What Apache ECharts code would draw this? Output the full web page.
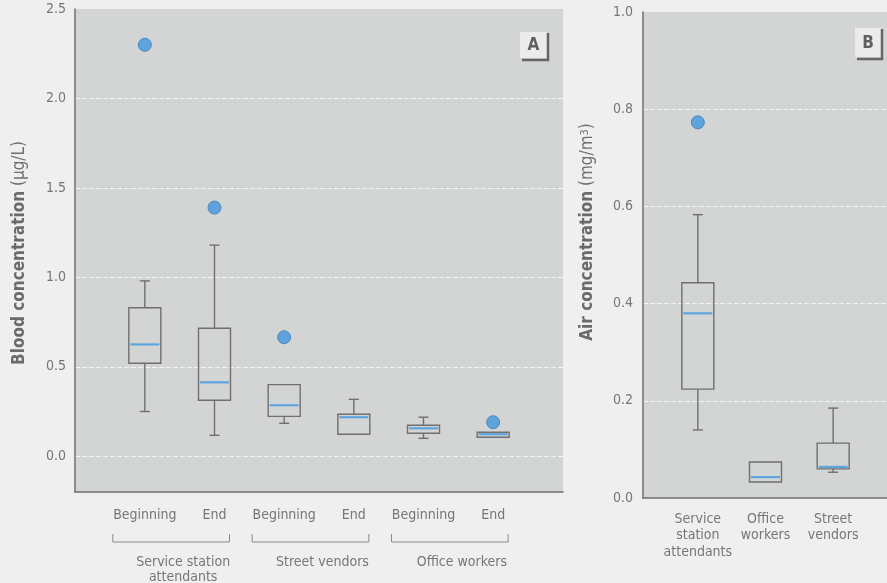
<!DOCTYPE html>
<html><head><meta charset="utf-8">
<script src="https://cdn.jsdelivr.net/npm/echarts@6/dist/echarts.min.js"></script>
<style>html,body{margin:0;padding:0;background:#efefef}#c{width:887px;height:583px}</style>
</head><body><div id="c"></div>
<script>
const FONT = '"Liberation Sans Narrow","DejaVu Sans Condensed",sans-serif';

// Panel A: blood concentration (µg/L)
const bloodGroups = ['Service station\nattendants', 'Street vendors', 'Office workers'];
const bloodCategories = ['SSA|Beginning', 'SSA|End', 'SV|Beginning', 'SV|End', 'OW|Beginning', 'OW|End'];
const bloodLow    = [0.25, 0.117, 0.184, 0.123, 0.100, 0.106];
const bloodQ1     = [0.52, 0.313, 0.223, 0.123, 0.128, 0.106];
const bloodMedian = [0.625, 0.413, 0.285, 0.218, 0.156, 0.123];
const bloodQ3     = [0.83, 0.715, 0.400, 0.235, 0.173, 0.134];
const bloodHigh   = [0.98, 1.18, 0.400, 0.318, 0.218, 0.134];
const bloodOutliers = [[0, 2.30], [1, 1.39], [2, 0.665], [5, 0.19]];
const bloodTickLabels = [0, 0.5, 1.0, 1.5, 2.0, 2.5];
const bloodGridLines = [0, 0.5, 1.0, 1.5, 2.0];

// Panel B: air concentration (mg/m3)
const airCategories = ['Service\nstation\nattendants', 'Office\nworkers', 'Street\nvendors'];
const airLow    = [0.14, 0.033, 0.053];
const airQ1     = [0.224, 0.033, 0.060];
const airMedian = [0.38, 0.043, 0.064];
const airQ3     = [0.443, 0.074, 0.113];
const airHigh   = [0.583, 0.074, 0.185];
const airOutliers = [[0, 0.773]];
const airTickLabels = [0, 0.2, 0.4, 0.6, 0.8, 1.0];
const airGridLines = [0.2, 0.4, 0.6, 0.8];

const GRAY = '#6f6f6f';
const TXT = '#767676';

function boxItem(params, api) {
  const i = api.value(0);
  const p = k => api.coord([i, api.value(k)]);
  const lo = p(1), q1 = p(2), md = p(3), q3 = p(4), hi = p(5);
  const cx = lo[0], half = 16, cap = 5;
  const st = {stroke: GRAY, lineWidth: 1.4, fill: 'none'};
  const ch = [];
  if (q3[1] - hi[1] > 0.5) {
    ch.push({type: 'line', shape: {x1: cx, y1: q3[1], x2: cx, y2: hi[1]}, style: st});
    ch.push({type: 'line', shape: {x1: cx - cap, y1: hi[1], x2: cx + cap, y2: hi[1]}, style: st});
  }
  if (lo[1] - q1[1] > 0.5) {
    ch.push({type: 'line', shape: {x1: cx, y1: q1[1], x2: cx, y2: lo[1]}, style: st});
    ch.push({type: 'line', shape: {x1: cx - cap, y1: lo[1], x2: cx + cap, y2: lo[1]}, style: st});
  }
  ch.push({type: 'rect', shape: {x: cx - half, y: q3[1], width: 2 * half, height: q1[1] - q3[1]}, style: st});
  ch.push({type: 'line', shape: {x1: cx - half + 1.5, y1: md[1], x2: cx + half - 1.5, y2: md[1]},
           style: {stroke: '#5ea4dc', lineWidth: 2.2}});
  return {type: 'group', children: ch};
}

const bloodBoxData = bloodCategories.map((c, i) => [i, bloodLow[i], bloodQ1[i], bloodMedian[i], bloodQ3[i], bloodHigh[i]]);
const airBoxData = airCategories.map((c, i) => [i, airLow[i], airQ1[i], airMedian[i], airQ3[i], airHigh[i]]);

const chart = echarts.init(document.getElementById('c'), null, {renderer: 'canvas'});

const hiddenY = (min, max) => ({type: 'value', min, max, show: false, splitLine: {show: false}});
const gridLineStyle = {color: 'rgba(255,255,255,0.75)', width: 1, type: [5, 2]};

const option = {
  backgroundColor: '#efefef',
  animation: false,
  textStyle: {fontFamily: FONT},
  grid: [
    {left: 75, width: 488, top: 9, bottom: 91, show: true, backgroundColor: '#d3d5d5', borderWidth: 0},
    {left: 110, width: 418, top: 9, bottom: 91},
    {left: 643, right: 0, top: 12, bottom: 85, show: true, backgroundColor: '#d3d5d5', borderWidth: 0},
    {left: 664, width: 203, top: 12, bottom: 85}
  ],
  xAxis: [
    {gridIndex: 0, type: 'value', min: 0, max: 1,
     axisLine: {show: true, onZero: false, lineStyle: {color: GRAY, width: 1.5}},
     axisTick: {show: false}, axisLabel: {show: false}, splitLine: {show: false}},
    {gridIndex: 1, type: 'category', data: bloodCategories, axisLine: {show: false}, axisTick: {show: false},
     axisLabel: {interval: 0, margin: 16, color: TXT, fontSize: 14, fontFamily: FONT, formatter: v => v.split('|')[1]}},
    {gridIndex: 2, type: 'value', min: 0, max: 1,
     axisLine: {show: true, onZero: false, lineStyle: {color: GRAY, width: 1.5}},
     axisTick: {show: false}, axisLabel: {show: false}, splitLine: {show: false}},
    {gridIndex: 3, type: 'category', data: airCategories, axisLine: {show: false}, axisTick: {show: false},
     axisLabel: {interval: 0, margin: 13, color: TXT, fontSize: 14, lineHeight: 16.5, fontFamily: FONT}}
  ],
  yAxis: [
    {gridIndex: 0, type: 'value', min: -0.2, max: 2.5, interval: 0.1,
     axisLine: {show: true, onZero: false, lineStyle: {color: GRAY, width: 1.5}},
     axisTick: {show: false, customValues: bloodGridLines},
     axisLabel: {customValues: bloodTickLabels, color: TXT, fontSize: 14, margin: 9, fontFamily: FONT, formatter: v => v.toFixed(1)},
     splitLine: {show: true, lineStyle: gridLineStyle}},
    Object.assign({gridIndex: 1}, hiddenY(-0.2, 2.5)),
    {gridIndex: 2, type: 'value', min: 0, max: 1, interval: 0.2,
     axisLine: {show: true, onZero: false, lineStyle: {color: GRAY, width: 1.5}},
     axisTick: {show: false, customValues: airGridLines},
     axisLabel: {customValues: airTickLabels, color: TXT, fontSize: 14, margin: 10, fontFamily: FONT, formatter: v => v.toFixed(1)},
     splitLine: {show: true, lineStyle: gridLineStyle}},
    Object.assign({gridIndex: 3}, hiddenY(0, 1))
  ],
  series: [
    {type: 'custom', xAxisIndex: 1, yAxisIndex: 1, renderItem: boxItem, data: bloodBoxData,
     encode: {x: 0, y: [1, 2, 3, 4, 5]}, z: 3},
    {type: 'scatter', xAxisIndex: 1, yAxisIndex: 1, data: bloodOutliers, symbolSize: 13,
     itemStyle: {color: '#5fa3dd', borderColor: '#4b87bf', borderWidth: 1, opacity: 1}, z: 4},
    {type: 'custom', xAxisIndex: 3, yAxisIndex: 3, renderItem: boxItem, data: airBoxData,
     encode: {x: 0, y: [1, 2, 3, 4, 5]}, z: 3},
    {type: 'scatter', xAxisIndex: 3, yAxisIndex: 3, data: airOutliers, symbolSize: 13,
     itemStyle: {color: '#5fa3dd', borderColor: '#4b87bf', borderWidth: 1, opacity: 1}, z: 4}
  ]
};
chart.setOption(option);

function panelTag(x, y, w, h, letter) {
  return [
    {type: 'rect', shape: {x, y, width: w, height: h}, style: {fill: '#ebebeb'}, z: 10},
    {type: 'polyline', shape: {points: [[x + w + 1, y + 1], [x + w + 1, y + h + 2], [x + 2, y + h + 2]]},
     style: {stroke: '#666', lineWidth: 2.5, fill: 'none'}, z: 10},
    {type: 'text', x: x + w / 2, y: y + h / 2 + 1, style: {text: letter, fontFamily: FONT, fontWeight: 'bold',
     fontSize: 17, fill: '#5f5f5f', align: 'center', verticalAlign: 'middle'}, z: 11}
  ];
}

const gfx = [];
gfx.push(...panelTag(520, 32, 27, 26, 'A'));
gfx.push(...panelTag(855, 28, 26, 29, 'B'));

// axis titles
gfx.push({type: 'text', x: 20, y: 253, rotation: Math.PI / 2,
  style: {text: '{b|Blood concentration} (µg/L)', align: 'center', verticalAlign: 'middle', fill: '#707070',
    fontFamily: FONT, fontSize: 17, rich: {b: {fontWeight: 'bold', fontSize: 17, fontFamily: FONT, fill: '#6a6a6a'}}}});
gfx.push({type: 'text', x: 588, y: 232, rotation: Math.PI / 2,
  style: {text: '{b|Air concentration} (mg/m{s|3})', align: 'center', verticalAlign: 'middle', fill: '#707070',
    fontFamily: FONT, fontSize: 17, rich: {b: {fontWeight: 'bold', fontSize: 17, fontFamily: FONT, fill: '#6a6a6a'},
    s: {fontSize: 11, verticalAlign: 'top', padding: [0, 0, 6, 0], fontFamily: FONT, fill: '#707070'}}}});

// group brackets under panel A
bloodGroups.forEach((g, k) => {
  const xb = chart.convertToPixel({xAxisIndex: 1}, 2 * k);
  const xe = chart.convertToPixel({xAxisIndex: 1}, 2 * k + 1);
  const l = xb - 32, r = xe + 15;
  gfx.push({type: 'polyline', shape: {points: [[l, 534], [l, 542], [r, 542], [r, 534]]},
    style: {stroke: '#8a8a8a', lineWidth: 1, fill: 'none'}});
  gfx.push({type: 'text', x: (l + r) / 2 + 12, y: 555, style: {text: g, align: 'center', verticalAlign: 'top',
    fontFamily: FONT, fontSize: 14, lineHeight: 15, fill: TXT}});
});

chart.setOption({graphic: gfx});
</script>
</body></html>
